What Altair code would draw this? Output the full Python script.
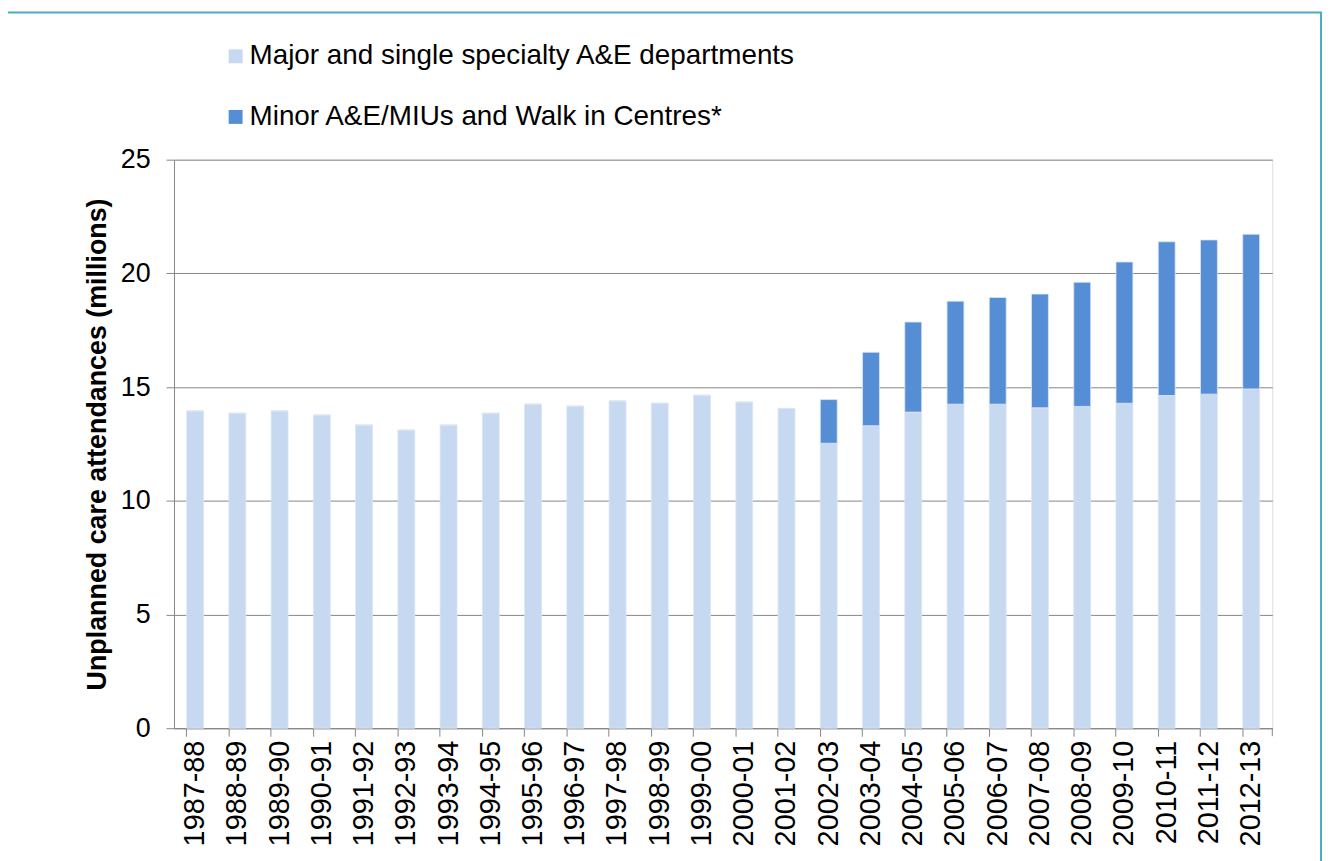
import altair as alt
import pandas as pd

years = ["1987-88", "1988-89", "1989-90", "1990-91", "1991-92", "1992-93", "1993-94",
         "1994-95", "1995-96", "1996-97", "1997-98", "1998-99", "1999-00", "2000-01",
         "2001-02", "2002-03", "2003-04", "2004-05", "2005-06", "2006-07", "2007-08",
         "2008-09", "2009-10", "2010-11", "2011-12", "2012-13"]
major = [13.95, 13.85, 13.95, 13.77, 13.33, 13.11, 13.33, 13.85, 14.25, 14.16, 14.39,
         14.29, 14.64, 14.34, 14.06, 12.53, 13.30, 13.90, 14.25, 14.25, 14.09, 14.15,
         14.29, 14.63, 14.69, 14.92]
minor = [0, 0, 0, 0, 0, 0, 0, 0, 0, 0, 0, 0, 0, 0, 0, 1.92, 3.23, 3.96, 4.53, 4.69,
         5.00, 5.46, 6.21, 6.76, 6.78, 6.80]
series = ["Major and single specialty A&E departments",
          "Minor A&E/MIUs and Walk in Centres*"]
colors = ["#C6D9F1", "#558ED5"]

rows = []
for i, y in enumerate(years):
    rows.append({"year": y, "series": series[0], "value": major[i], "ord": 0})
    rows.append({"year": y, "series": series[1], "value": minor[i], "ord": 1})
df = pd.DataFrame(rows)

FONT = "Liberation Sans"
W, H = 1105, 572

bars = alt.Chart(df).mark_bar(stroke="#DCE6F2", strokeWidth=0.8).encode(
    x=alt.X("year:N", sort=years,
            scale=alt.Scale(paddingInner=0.6, paddingOuter=0.3),
            axis=alt.Axis(title=None, labelAngle=270, labelFontSize=29,
                          labelPadding=4, labelBaseline="middle", labelAlign="right",
                          grid=False, bandPosition=0, tickSize=8,
                          domainColor="#868686", tickColor="#868686")),
    y=alt.Y("value:Q", stack="zero",
            scale=alt.Scale(domain=[0, 25]),
            axis=alt.Axis(title="Unplanned care attendances (millions)",
                          titleFontSize=27, titleFontWeight="bold",
                          titlePadding=9, values=[0, 5, 10, 15, 20, 25],
                          labelFontSize=27, labelPadding=16, tickSize=8,
                          grid=True, gridColor="#868686",
                          domainColor="#868686", tickColor="#868686")),
    color=alt.Color("series:N",
                    scale=alt.Scale(domain=series, range=colors),
                    legend=alt.Legend(title=None, orient="none", legendX=48,
                                      legendY=-118, symbolType="square",
                                      symbolSize=196, symbolStrokeWidth=0,
                                      labelFontSize=28, labelOffset=0,
                                      rowPadding=33, labelLimit=900)),
    order=alt.Order("ord:Q", sort="ascending"),
)

one = pd.DataFrame({"k": [0]})
frame = alt.Chart(one).mark_rect(
    filled=False, stroke="#4BACC6", strokeWidth=2
).encode(x=alt.value(-168), x2=alt.value(1154), y=alt.value(-148), y2=alt.value(730))

end_tick = alt.Chart(one).mark_rule(color="#868686").encode(
    x=alt.value(W), y=alt.value(H), y2=alt.value(H + 8))

chart = alt.layer(bars, end_tick, frame).properties(
    width=W, height=H,
    autosize=alt.AutoSizeParams(type="none"),
    padding={"left": 167, "top": 150, "right": 50, "bottom": 131},
).configure_view(stroke=None).configure(
    font=FONT
).configure_axis(
    labelFont=FONT, titleFont=FONT, labelColor="black", titleColor="black"
).configure_legend(labelFont=FONT, labelColor="black")

chart.save("out.html", embed_options={"renderer": "svg", "actions": False})
